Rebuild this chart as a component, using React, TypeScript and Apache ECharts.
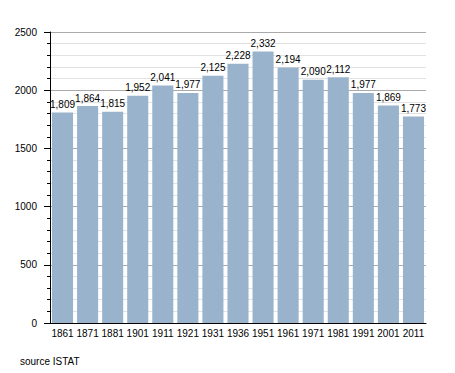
import React, { useEffect, useRef } from "react";
import * as echarts from "echarts";

const years = ["1861", "1871", "1881", "1901", "1911", "1921", "1931", "1936", "1951", "1961", "1971", "1981", "1991", "2001", "2011"];
const population = [1809, 1864, 1815, 1952, 2041, 1977, 2125, 2228, 2332, 2194, 2090, 2112, 1977, 1869, 1773];
const sourceText = "source ISTAT";

export default function App() {
  const ref = useRef<HTMLDivElement>(null);
  useEffect(() => {
    if (!ref.current) return;
    const chart = echarts.init(ref.current, undefined, { renderer: "svg" });
    const font = "'Liberation Sans', Arial, Helvetica, sans-serif";
    chart.setOption({
      animation: false,
      textStyle: { fontFamily: font },
      grid: { left: 50, right: 29, top: 32, bottom: 50, containLabel: false },
      xAxis: {
        type: "category",
        data: years,
        axisLine: { lineStyle: { color: "#000", width: 1 } },
        axisTick: { show: false },
        axisLabel: { color: "#000", fontSize: 10, fontFamily: font, margin: 5, interval: 0 },
      },
      yAxis: {
        type: "value",
        min: 0,
        max: 2500,
        interval: 500,
        axisLine: { show: true, lineStyle: { color: "#000", width: 1 } },
        axisTick: { show: true, length: 6, lineStyle: { color: "#000" } },
        minorTick: { show: true, splitNumber: 5, length: 3, lineStyle: { color: "#000" } },
        axisLabel: { color: "#000", fontSize: 10, fontFamily: font, margin: 13, formatter: (v: number) => String(v) },
        splitLine: { show: true, lineStyle: { color: "#aaaaaa", width: 1 } },
        minorSplitLine: { show: true, lineStyle: { color: "#e2e2e2", width: 1 } },
      },
      series: [
        {
          type: "bar",
          data: population,
          barCategoryGap: "16%",
          itemStyle: { color: "#99b3cc" },
          label: {
            show: true,
            position: "top",
            distance: 3,
            color: "#000",
            fontSize: 10,
            fontFamily: font,
            formatter: (p: any) => p.value.toLocaleString("en-US"),
          },
        },
      ],
      graphic: [
        {
          type: "text",
          left: 20,
          top: 356,
          style: { text: sourceText, fill: "#000", fontSize: 10, fontFamily: font },
        },
      ],
    });
    return () => chart.dispose();
  }, []);
  return <div ref={ref} style={{ width: 455, height: 373, position: "absolute", left: 0, top: 0 }} />;
}
